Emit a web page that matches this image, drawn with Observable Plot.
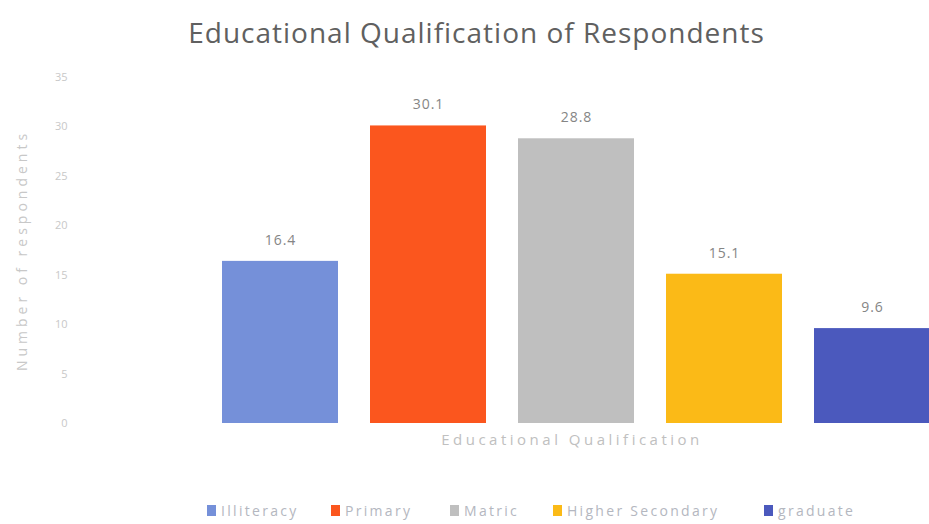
<!DOCTYPE html>
<html>
<head>
<meta charset="utf-8">
<script src="https://cdn.jsdelivr.net/npm/d3@7"></script>
<script src="https://cdn.jsdelivr.net/npm/@observablehq/plot@0.6"></script>
<style>
  html, body { margin: 0; padding: 0; background: #fff; overflow: hidden; width: 929px; height: 524px; }
  body { font-family: "Open Sans", "DejaVu Sans", sans-serif; position: relative; }
  #title { height: 55px; display: flex; align-items: center; justify-content: center; padding-left: 24px; padding-top: 8px; box-sizing: border-box;
           font-size: 28px; color: #606060; letter-spacing: 1px; }
  #legend { position: absolute; top: 501px; left: 0; width: 929px; height: 18px; font-size: 14px; color: #b4b7c0; letter-spacing: 2.3px; }
  .item { position: absolute; top: 0; display: flex; align-items: center; }
  .sw { width: 9px; height: 11px; margin-right: 5px; }
</style>
</head>
<body>
<div id="title">Educational Qualification of Respondents</div>
<div id="chart"></div>
<div id="legend"></div>
<script>
const categories = ["Illiteracy", "Primary", "Matric", "Higher Secondary", "graduate"];
const values = [16.4, 30.1, 28.8, 15.1, 9.6];
const colors = ["#7590d9", "#fb561e", "#bfbfbf", "#fbba17", "#4b59bd"];
const yTicks = [0, 5, 10, 15, 20, 25, 30, 35];
const legendLeft = [207, 331, 450, 553, 764];
const xTitle = "Educational Qualification";
const yTitle = "Number of respondents";

const data = categories.map((c, i) => ({cat: c, value: values[i]}));

const chart = Plot.plot({
  width: 929,
  height: 410,
  marginTop: 22,
  marginBottom: 42,
  marginLeft: 72,
  marginRight: 0,
  style: {fontFamily: "'Open Sans', sans-serif", background: "transparent"},
  x: {domain: categories, range: [204, 948], paddingInner: 0.213, paddingOuter: 0.1065, axis: null},
  y: {domain: [0, 35], axis: null},
  color: {domain: categories, range: colors},
  marks: [
    Plot.barY(data, {x: "cat", y: "value", fill: "cat"}),
    Plot.text(data, {x: "cat", y: "value", text: d => d.value.toFixed(1), dy: -21, fill: "#858585", fontSize: 14}),
    Plot.axisY({ticks: yTicks, tickSize: 0, tickPadding: 5, fill: "#c8c8c8", fontSize: 11, label: null}),
    Plot.text([yTitle], {frameAnchor: "left", dx: -50, rotate: -90, textAnchor: "middle", fill: "#c8c8c8", fontSize: 14}),
    Plot.text([xTitle], {frameAnchor: "bottom", dx: 71, dy: 17, lineAnchor: "middle", fill: "#c0c0c0", fontSize: 15})
  ]
});
document.getElementById("chart").appendChild(chart);

d3.select(chart).selectAll("text").each(function() {
  const t = this.textContent;
  if (t === xTitle) this.setAttribute("letter-spacing", "3.5");
  else if (t === yTitle) this.setAttribute("letter-spacing", "4");
  else if (/^\d+\.\d$/.test(t)) this.setAttribute("letter-spacing", "1");
});

const legend = document.getElementById("legend");
categories.forEach((c, i) => {
  const it = document.createElement("div");
  it.className = "item";
  it.style.left = legendLeft[i] + "px";
  it.innerHTML = `<span class="sw" style="background:${colors[i]}"></span><span>${c}</span>`;
  legend.appendChild(it);
});
</script>
</body>
</html>
